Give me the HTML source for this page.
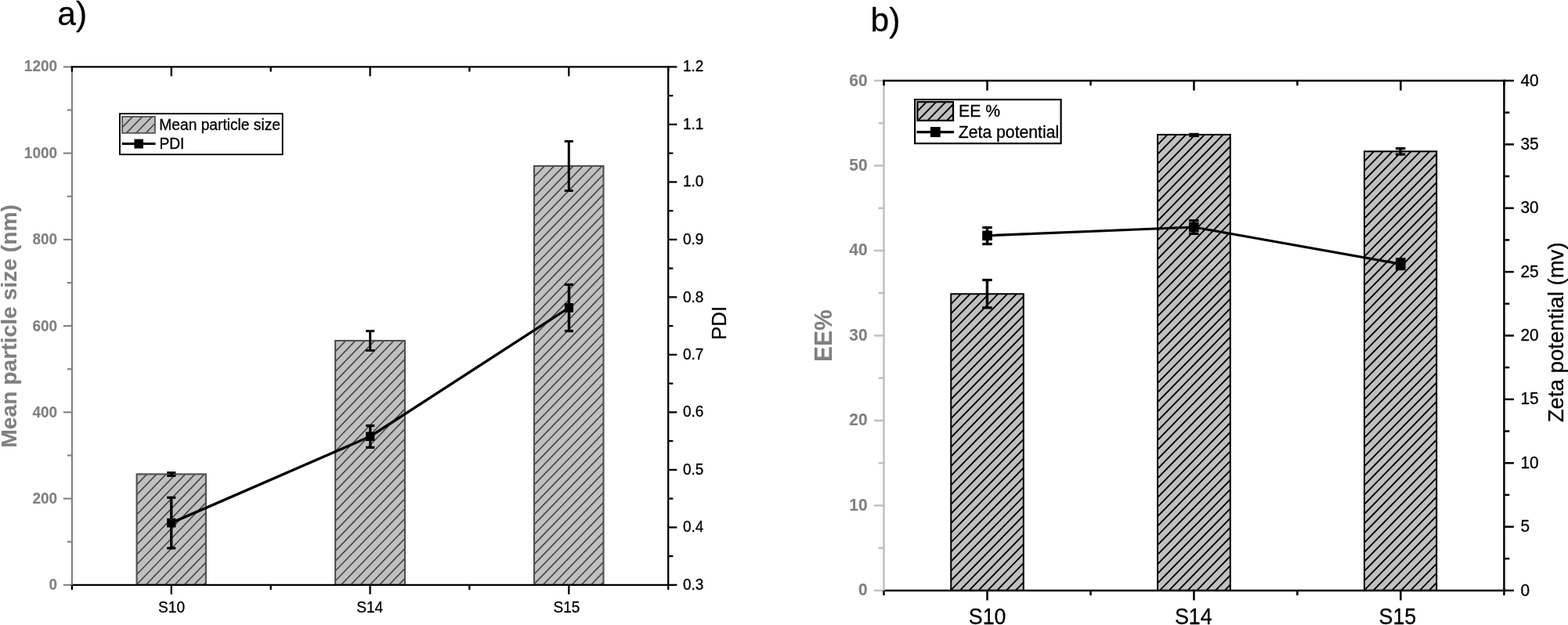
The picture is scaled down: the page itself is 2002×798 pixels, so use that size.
<!DOCTYPE html>
<html lang="en"><head><meta charset="utf-8"><title>Figure</title>
<style>html,body{margin:0;padding:0;background:#fff}body{width:2002px;height:798px;overflow:hidden}svg{display:block;font-family:'Liberation Sans', Arial, sans-serif}text{stroke:#000;stroke-width:.3px;stroke-linejoin:round}text.g{fill:#808080;stroke:#808080;stroke-width:.12px}</style>
</head><body>
<svg width="2002" height="798" viewBox="0 0 2002 798" role="img" aria-label="Bar and line charts: a) mean particle size and PDI, b) EE% and zeta potential for samples S10, S14, S15">
<rect width="2002" height="798" fill="#fff"/>
<g>
<rect x="174.6" y="605.4" width="88.3" height="141.45" fill="#c0c0c0"/>
<clipPath id="c1"><rect x="174.6" y="605.4" width="88.3" height="141.45"/></clipPath>
<path clip-path="url(#c1)" d="M36.37,749.85L178.26,602.4M48.62,749.85L190.51,602.4M60.87,749.85L202.76,602.4M73.12,749.85L215.01,602.4M85.37,749.85L227.26,602.4M97.62,749.85L239.51,602.4M109.87,749.85L251.76,602.4M122.12,749.85L264.01,602.4M134.37,749.85L276.26,602.4M146.62,749.85L288.51,602.4M158.87,749.85L300.76,602.4M171.12,749.85L313.01,602.4M183.37,749.85L325.26,602.4M195.62,749.85L337.51,602.4M207.87,749.85L349.76,602.4M220.12,749.85L362.01,602.4M232.37,749.85L374.26,602.4M244.62,749.85L386.51,602.4M256.87,749.85L398.76,602.4" stroke="#4a4a4a" stroke-width="1.7" fill="none"/>
<rect x="174.6" y="605.4" width="88.3" height="141.45" fill="none" stroke="#505050" stroke-width="2.1"/>
<rect x="428.1" y="435" width="88.9" height="311.85" fill="#c0c0c0"/>
<clipPath id="c2"><rect x="428.1" y="435" width="88.9" height="311.85"/></clipPath>
<path clip-path="url(#c2)" d="M126.32,749.85L432.18,432M138.57,749.85L444.43,432M150.82,749.85L456.68,432M163.07,749.85L468.93,432M175.32,749.85L481.18,432M187.57,749.85L493.43,432M199.82,749.85L505.68,432M212.07,749.85L517.93,432M224.32,749.85L530.18,432M236.57,749.85L542.43,432M248.82,749.85L554.68,432M261.07,749.85L566.93,432M273.32,749.85L579.18,432M285.57,749.85L591.43,432M297.82,749.85L603.68,432M310.07,749.85L615.93,432M322.32,749.85L628.18,432M334.57,749.85L640.43,432M346.82,749.85L652.68,432M359.07,749.85L664.93,432M371.32,749.85L677.18,432M383.57,749.85L689.43,432M395.82,749.85L701.68,432M408.07,749.85L713.93,432M420.32,749.85L726.18,432M432.57,749.85L738.43,432M444.82,749.85L750.68,432M457.07,749.85L762.93,432M469.32,749.85L775.18,432M481.57,749.85L787.43,432M493.82,749.85L799.68,432M506.07,749.85L811.93,432M518.32,749.85L824.18,432" stroke="#4a4a4a" stroke-width="1.7" fill="none"/>
<rect x="428.1" y="435" width="88.9" height="311.85" fill="none" stroke="#505050" stroke-width="2.1"/>
<rect x="682" y="211.9" width="88.5" height="534.95" fill="#c0c0c0"/>
<clipPath id="c3"><rect x="682" y="211.9" width="88.5" height="534.95"/></clipPath>
<path clip-path="url(#c3)" d="M163.61,749.85L685.96,208.9M175.86,749.85L698.21,208.9M188.11,749.85L710.46,208.9M200.36,749.85L722.71,208.9M212.61,749.85L734.96,208.9M224.86,749.85L747.21,208.9M237.11,749.85L759.46,208.9M249.36,749.85L771.71,208.9M261.61,749.85L783.96,208.9M273.86,749.85L796.21,208.9M286.11,749.85L808.46,208.9M298.36,749.85L820.71,208.9M310.61,749.85L832.96,208.9M322.86,749.85L845.21,208.9M335.11,749.85L857.46,208.9M347.36,749.85L869.71,208.9M359.61,749.85L881.96,208.9M371.86,749.85L894.21,208.9M384.11,749.85L906.46,208.9M396.36,749.85L918.71,208.9M408.61,749.85L930.96,208.9M420.86,749.85L943.21,208.9M433.11,749.85L955.46,208.9M445.36,749.85L967.71,208.9M457.61,749.85L979.96,208.9M469.86,749.85L992.21,208.9M482.11,749.85L1004.46,208.9M494.36,749.85L1016.71,208.9M506.61,749.85L1028.96,208.9M518.86,749.85L1041.21,208.9M531.11,749.85L1053.46,208.9M543.36,749.85L1065.71,208.9M555.61,749.85L1077.96,208.9M567.86,749.85L1090.21,208.9M580.11,749.85L1102.46,208.9M592.36,749.85L1114.71,208.9M604.61,749.85L1126.96,208.9M616.86,749.85L1139.21,208.9M629.11,749.85L1151.46,208.9M641.36,749.85L1163.71,208.9M653.61,749.85L1175.96,208.9M665.86,749.85L1188.21,208.9M678.11,749.85L1200.46,208.9M690.36,749.85L1212.71,208.9M702.61,749.85L1224.96,208.9M714.86,749.85L1237.21,208.9M727.11,749.85L1249.46,208.9M739.36,749.85L1261.71,208.9M751.61,749.85L1273.96,208.9M763.86,749.85L1286.21,208.9" stroke="#4a4a4a" stroke-width="1.7" fill="none"/>
<rect x="682" y="211.9" width="88.5" height="534.95" fill="none" stroke="#505050" stroke-width="2.1"/>
<line x1="218.8" y1="603.5" x2="218.8" y2="607.5" stroke="#000" stroke-width="3.0"/>
<line x1="213.25" y1="603.5" x2="224.35" y2="603.5" stroke="#000" stroke-width="2.9"/>
<line x1="213.25" y1="607.5" x2="224.35" y2="607.5" stroke="#000" stroke-width="2.9"/>
<line x1="472.6" y1="422.7" x2="472.6" y2="447.45" stroke="#000" stroke-width="3.0"/>
<line x1="467.05" y1="422.7" x2="478.15" y2="422.7" stroke="#000" stroke-width="2.9"/>
<line x1="467.05" y1="447.45" x2="478.15" y2="447.45" stroke="#000" stroke-width="2.9"/>
<line x1="726.3" y1="180.4" x2="726.3" y2="243.5" stroke="#000" stroke-width="3.0"/>
<line x1="720.75" y1="180.4" x2="731.85" y2="180.4" stroke="#000" stroke-width="2.9"/>
<line x1="720.75" y1="243.5" x2="731.85" y2="243.5" stroke="#000" stroke-width="2.9"/>
</g><g>
<polyline points="218.75,667.6 472.7,557.3 726.5,392.9" fill="none" stroke="#000" stroke-width="3.4"/>
<line x1="218.75" y1="635.3" x2="218.75" y2="699.9" stroke="#000" stroke-width="3.4"/>
<line x1="213.2" y1="635.3" x2="224.3" y2="635.3" stroke="#000" stroke-width="3.2"/>
<line x1="213.2" y1="699.9" x2="224.3" y2="699.9" stroke="#000" stroke-width="3.2"/>
<line x1="472.7" y1="543.5" x2="472.7" y2="571.3" stroke="#000" stroke-width="3.4"/>
<line x1="467.15" y1="543.5" x2="478.25" y2="543.5" stroke="#000" stroke-width="3.2"/>
<line x1="467.15" y1="571.3" x2="478.25" y2="571.3" stroke="#000" stroke-width="3.2"/>
<line x1="726.5" y1="363.4" x2="726.5" y2="422.7" stroke="#000" stroke-width="3.4"/>
<line x1="720.95" y1="363.4" x2="732.05" y2="363.4" stroke="#000" stroke-width="3.2"/>
<line x1="720.95" y1="422.7" x2="732.05" y2="422.7" stroke="#000" stroke-width="3.2"/>
<rect x="213.15" y="661.8" width="11.2" height="11.6" fill="#000"/>
<rect x="467.1" y="551.5" width="11.2" height="11.6" fill="#000"/>
<rect x="720.9" y="387.1" width="11.2" height="11.6" fill="#000"/>
</g><g>
<line x1="91.9" y1="84.25" x2="91.9" y2="748" stroke="#808080" stroke-width="2.1"/>
<line x1="80.85" y1="746.85" x2="91.9" y2="746.85" stroke="#808080" stroke-width="2.1"/>
<line x1="85.85" y1="691.73" x2="91.9" y2="691.73" stroke="#808080" stroke-width="2.1"/>
<line x1="80.85" y1="636.61" x2="91.9" y2="636.61" stroke="#808080" stroke-width="2.1"/>
<line x1="85.85" y1="581.49" x2="91.9" y2="581.49" stroke="#808080" stroke-width="2.1"/>
<line x1="80.85" y1="526.37" x2="91.9" y2="526.37" stroke="#808080" stroke-width="2.1"/>
<line x1="85.85" y1="471.25" x2="91.9" y2="471.25" stroke="#808080" stroke-width="2.1"/>
<line x1="80.85" y1="416.12" x2="91.9" y2="416.12" stroke="#808080" stroke-width="2.1"/>
<line x1="85.85" y1="361" x2="91.9" y2="361" stroke="#808080" stroke-width="2.1"/>
<line x1="80.85" y1="305.88" x2="91.9" y2="305.88" stroke="#808080" stroke-width="2.1"/>
<line x1="85.85" y1="250.76" x2="91.9" y2="250.76" stroke="#808080" stroke-width="2.1"/>
<line x1="80.85" y1="195.64" x2="91.9" y2="195.64" stroke="#808080" stroke-width="2.1"/>
<line x1="85.85" y1="140.52" x2="91.9" y2="140.52" stroke="#808080" stroke-width="2.1"/>
<line x1="80.85" y1="85.4" x2="91.9" y2="85.4" stroke="#808080" stroke-width="2.1"/>
<line x1="853.2" y1="84.25" x2="853.2" y2="748" stroke="#000" stroke-width="2.3"/>
<line x1="853.2" y1="746.85" x2="864.35" y2="746.85" stroke="#000" stroke-width="2.3"/>
<line x1="853.2" y1="710.1" x2="859.35" y2="710.1" stroke="#000" stroke-width="2.3"/>
<line x1="853.2" y1="673.36" x2="864.35" y2="673.36" stroke="#000" stroke-width="2.3"/>
<line x1="853.2" y1="636.61" x2="859.35" y2="636.61" stroke="#000" stroke-width="2.3"/>
<line x1="853.2" y1="599.86" x2="864.35" y2="599.86" stroke="#000" stroke-width="2.3"/>
<line x1="853.2" y1="563.11" x2="859.35" y2="563.11" stroke="#000" stroke-width="2.3"/>
<line x1="853.2" y1="526.37" x2="864.35" y2="526.37" stroke="#000" stroke-width="2.3"/>
<line x1="853.2" y1="489.62" x2="859.35" y2="489.62" stroke="#000" stroke-width="2.3"/>
<line x1="853.2" y1="452.87" x2="864.35" y2="452.87" stroke="#000" stroke-width="2.3"/>
<line x1="853.2" y1="416.12" x2="859.35" y2="416.12" stroke="#000" stroke-width="2.3"/>
<line x1="853.2" y1="379.38" x2="864.35" y2="379.38" stroke="#000" stroke-width="2.3"/>
<line x1="853.2" y1="342.63" x2="859.35" y2="342.63" stroke="#000" stroke-width="2.3"/>
<line x1="853.2" y1="305.88" x2="864.35" y2="305.88" stroke="#000" stroke-width="2.3"/>
<line x1="853.2" y1="269.14" x2="859.35" y2="269.14" stroke="#000" stroke-width="2.3"/>
<line x1="853.2" y1="232.39" x2="864.35" y2="232.39" stroke="#000" stroke-width="2.3"/>
<line x1="853.2" y1="195.64" x2="859.35" y2="195.64" stroke="#000" stroke-width="2.3"/>
<line x1="853.2" y1="158.89" x2="864.35" y2="158.89" stroke="#000" stroke-width="2.3"/>
<line x1="853.2" y1="122.15" x2="859.35" y2="122.15" stroke="#000" stroke-width="2.3"/>
<line x1="853.2" y1="85.4" x2="864.35" y2="85.4" stroke="#000" stroke-width="2.3"/>
<line x1="90.85" y1="85.4" x2="854.35" y2="85.4" stroke="#000" stroke-width="2.3"/>
<line x1="92.95" y1="746.85" x2="854.35" y2="746.85" stroke="#000" stroke-width="2.3"/>
<line x1="91.9" y1="85.4" x2="91.9" y2="91.55" stroke="#000" stroke-width="2.3"/>
<line x1="91.9" y1="746.85" x2="91.9" y2="753" stroke="#000" stroke-width="2.3"/>
<line x1="218.8" y1="85.4" x2="218.8" y2="97.35" stroke="#000" stroke-width="2.3"/>
<line x1="218.8" y1="746.85" x2="218.8" y2="758.8" stroke="#000" stroke-width="2.3"/>
<line x1="345.7" y1="85.4" x2="345.7" y2="91.55" stroke="#000" stroke-width="2.3"/>
<line x1="345.7" y1="746.85" x2="345.7" y2="753" stroke="#000" stroke-width="2.3"/>
<line x1="472.55" y1="85.4" x2="472.55" y2="97.35" stroke="#000" stroke-width="2.3"/>
<line x1="472.55" y1="746.85" x2="472.55" y2="758.8" stroke="#000" stroke-width="2.3"/>
<line x1="599.4" y1="85.4" x2="599.4" y2="91.55" stroke="#000" stroke-width="2.3"/>
<line x1="599.4" y1="746.85" x2="599.4" y2="753" stroke="#000" stroke-width="2.3"/>
<line x1="726.3" y1="85.4" x2="726.3" y2="97.35" stroke="#000" stroke-width="2.3"/>
<line x1="726.3" y1="746.85" x2="726.3" y2="758.8" stroke="#000" stroke-width="2.3"/>
<line x1="853.2" y1="85.4" x2="853.2" y2="91.55" stroke="#000" stroke-width="2.3"/>
<line x1="853.2" y1="746.85" x2="853.2" y2="753" stroke="#000" stroke-width="2.3"/>
</g><g>
<text transform="translate(73,753.45) scale(1,1.08)" font-size="18.95" class="g" text-anchor="end" font-weight="bold">0</text>
<text transform="translate(73,643.11) scale(1,1.08)" font-size="18.95" class="g" text-anchor="end" font-weight="bold">200</text>
<text transform="translate(73,532.57) scale(1,1.08)" font-size="18.95" class="g" text-anchor="end" font-weight="bold">400</text>
<text transform="translate(73,422.73) scale(1,1.08)" font-size="18.95" class="g" text-anchor="end" font-weight="bold">600</text>
<text transform="translate(73,312.48) scale(1,1.08)" font-size="18.95" class="g" text-anchor="end" font-weight="bold">800</text>
<text transform="translate(73,201.84) scale(1,1.08)" font-size="18.95" class="g" text-anchor="end" font-weight="bold">1000</text>
<text transform="translate(73,91) scale(1,1.08)" font-size="18.95" class="g" text-anchor="end" font-weight="bold">1200</text>
</g><g>
<text transform="translate(872,752.65) scale(1,1.11)" font-size="19.0">0.3</text>
<text transform="translate(872,679.16) scale(1,1.11)" font-size="19.0">0.4</text>
<text transform="translate(872,605.66) scale(1,1.11)" font-size="19.0">0.5</text>
<text transform="translate(872,531.77) scale(1,1.11)" font-size="19.0">0.6</text>
<text transform="translate(872,458.67) scale(1,1.11)" font-size="19.0">0.7</text>
<text transform="translate(872,385.58) scale(1,1.11)" font-size="19.0">0.8</text>
<text transform="translate(872,311.68) scale(1,1.11)" font-size="19.0">0.9</text>
<text transform="translate(872,238.19) scale(1,1.11)" font-size="19.0">1.0</text>
<text transform="translate(872,164.69) scale(1,1.11)" font-size="19.0">1.1</text>
<text transform="translate(872,91.2) scale(1,1.11)" font-size="19.0">1.2</text>
</g><g>
<text transform="translate(219.1,782.3) scale(1.0,1.055)" font-size="19.1" text-anchor="middle">S10</text>
<text transform="translate(472.25,782.3) scale(1.0,1.055)" font-size="19.1" text-anchor="middle">S14</text>
<text transform="translate(723.4,782.3) scale(1.0,1.055)" font-size="19.1" text-anchor="middle">S15</text>
</g><g>
<text transform="translate(20.8,416.4) rotate(-90) scale(1.035,1.0)" font-size="27.3" class="g" text-anchor="middle" font-weight="bold">Mean particle size (nm)</text>
<text transform="translate(926.5,412.4) rotate(-90)" font-size="25.9" text-anchor="middle">PDI</text>
<text transform="translate(73.3,31.7) scale(1.0,0.98)" font-size="42.5">a)</text>
</g><g>
<rect x="152.95" y="145.15" width="207.8" height="52.1" fill="#fff" stroke="#000" stroke-width="1.85"/>
<rect x="156.05" y="148.9" width="41.85" height="20.95" fill="#c0c0c0"/>
<clipPath id="c4"><rect x="156.05" y="148.9" width="41.85" height="20.95"/></clipPath>
<path clip-path="url(#c4)" d="M133.72,172.85L159.92,145.9M146.1,172.85L172.3,145.9M158.47,172.85L184.67,145.9M170.85,172.85L197.05,145.9M183.22,172.85L209.42,145.9M195.6,172.85L221.8,145.9" stroke="#4a4a4a" stroke-width="1.7" fill="none"/>
<rect x="156.05" y="148.9" width="41.85" height="20.95" fill="none" stroke="#505050" stroke-width="1.75"/>
<text transform="translate(203.3,165.9) scale(1.0,1.03)" font-size="19.2">Mean particle size</text>
<line x1="155.8" y1="183.6" x2="198.5" y2="183.6" stroke="#000" stroke-width="3"/>
<rect x="171.45" y="177.65" width="11.5" height="11.9" fill="#000"/>
<text transform="translate(203.4,189.8) scale(1.0,1.03)" font-size="19.2">PDI</text>
</g>
<g>
<rect x="1214.2" y="375.3" width="92.6" height="378.65" fill="#c0c0c0"/>
<clipPath id="c5"><rect x="1214.2" y="375.3" width="92.6" height="378.65"/></clipPath>
<path clip-path="url(#c5)" d="M843.38,756.95L1217.92,372.3M855.23,756.95L1229.77,372.3M867.08,756.95L1241.62,372.3M878.93,756.95L1253.47,372.3M890.78,756.95L1265.32,372.3M902.63,756.95L1277.17,372.3M914.48,756.95L1289.02,372.3M926.33,756.95L1300.87,372.3M938.18,756.95L1312.72,372.3M950.03,756.95L1324.57,372.3M961.88,756.95L1336.42,372.3M973.73,756.95L1348.27,372.3M985.58,756.95L1360.12,372.3M997.43,756.95L1371.97,372.3M1009.28,756.95L1383.82,372.3M1021.13,756.95L1395.67,372.3M1032.98,756.95L1407.52,372.3M1044.83,756.95L1419.37,372.3M1056.68,756.95L1431.22,372.3M1068.53,756.95L1443.07,372.3M1080.38,756.95L1454.92,372.3M1092.23,756.95L1466.77,372.3M1104.08,756.95L1478.62,372.3M1115.93,756.95L1490.47,372.3M1127.78,756.95L1502.32,372.3M1139.63,756.95L1514.17,372.3M1151.48,756.95L1526.02,372.3M1163.33,756.95L1537.87,372.3M1175.18,756.95L1549.72,372.3M1187.03,756.95L1561.57,372.3M1198.88,756.95L1573.42,372.3M1210.73,756.95L1585.27,372.3M1222.58,756.95L1597.12,372.3M1234.43,756.95L1608.97,372.3M1246.28,756.95L1620.82,372.3M1258.13,756.95L1632.67,372.3M1269.98,756.95L1644.52,372.3M1281.83,756.95L1656.37,372.3M1293.68,756.95L1668.22,372.3M1305.53,756.95L1680.07,372.3" stroke="#000" stroke-width="1.9" fill="none"/>
<rect x="1214.2" y="375.3" width="92.6" height="378.65" fill="none" stroke="#000" stroke-width="2.0"/>
<rect x="1478" y="171.9" width="92.8" height="582.05" fill="#c0c0c0"/>
<clipPath id="c6"><rect x="1478" y="171.9" width="92.8" height="582.05"/></clipPath>
<path clip-path="url(#c6)" d="M909.03,756.95L1481.62,168.9M920.88,756.95L1493.47,168.9M932.73,756.95L1505.32,168.9M944.58,756.95L1517.17,168.9M956.43,756.95L1529.02,168.9M968.28,756.95L1540.87,168.9M980.13,756.95L1552.72,168.9M991.98,756.95L1564.57,168.9M1003.83,756.95L1576.42,168.9M1015.68,756.95L1588.27,168.9M1027.53,756.95L1600.12,168.9M1039.38,756.95L1611.97,168.9M1051.23,756.95L1623.82,168.9M1063.08,756.95L1635.67,168.9M1074.93,756.95L1647.52,168.9M1086.78,756.95L1659.37,168.9M1098.63,756.95L1671.22,168.9M1110.48,756.95L1683.07,168.9M1122.33,756.95L1694.92,168.9M1134.18,756.95L1706.77,168.9M1146.03,756.95L1718.62,168.9M1157.88,756.95L1730.47,168.9M1169.73,756.95L1742.32,168.9M1181.58,756.95L1754.17,168.9M1193.43,756.95L1766.02,168.9M1205.28,756.95L1777.87,168.9M1217.13,756.95L1789.72,168.9M1228.98,756.95L1801.57,168.9M1240.83,756.95L1813.42,168.9M1252.68,756.95L1825.27,168.9M1264.53,756.95L1837.12,168.9M1276.38,756.95L1848.97,168.9M1288.23,756.95L1860.82,168.9M1300.08,756.95L1872.67,168.9M1311.93,756.95L1884.52,168.9M1323.78,756.95L1896.37,168.9M1335.63,756.95L1908.22,168.9M1347.48,756.95L1920.07,168.9M1359.33,756.95L1931.92,168.9M1371.18,756.95L1943.77,168.9M1383.03,756.95L1955.62,168.9M1394.88,756.95L1967.47,168.9M1406.73,756.95L1979.32,168.9M1418.58,756.95L1991.17,168.9M1430.43,756.95L2003.02,168.9M1442.28,756.95L2014.87,168.9M1454.13,756.95L2026.72,168.9M1465.98,756.95L2038.57,168.9M1477.83,756.95L2050.42,168.9M1489.68,756.95L2062.27,168.9M1501.53,756.95L2074.12,168.9M1513.38,756.95L2085.97,168.9M1525.23,756.95L2097.82,168.9M1537.08,756.95L2109.67,168.9M1548.93,756.95L2121.52,168.9M1560.78,756.95L2133.37,168.9M1572.63,756.95L2145.22,168.9" stroke="#000" stroke-width="1.9" fill="none"/>
<rect x="1478" y="171.9" width="92.8" height="582.05" fill="none" stroke="#000" stroke-width="2.0"/>
<rect x="1742" y="193.3" width="92.2" height="560.65" fill="#c0c0c0"/>
<clipPath id="c7"><rect x="1742" y="193.3" width="92.2" height="560.65"/></clipPath>
<path clip-path="url(#c7)" d="M1193.53,756.95L1745.28,190.3M1205.38,756.95L1757.13,190.3M1217.23,756.95L1768.98,190.3M1229.08,756.95L1780.83,190.3M1240.93,756.95L1792.68,190.3M1252.78,756.95L1804.53,190.3M1264.63,756.95L1816.38,190.3M1276.48,756.95L1828.23,190.3M1288.33,756.95L1840.08,190.3M1300.18,756.95L1851.93,190.3M1312.03,756.95L1863.78,190.3M1323.88,756.95L1875.63,190.3M1335.73,756.95L1887.48,190.3M1347.58,756.95L1899.33,190.3M1359.43,756.95L1911.18,190.3M1371.28,756.95L1923.03,190.3M1383.13,756.95L1934.88,190.3M1394.98,756.95L1946.73,190.3M1406.83,756.95L1958.58,190.3M1418.68,756.95L1970.43,190.3M1430.53,756.95L1982.28,190.3M1442.38,756.95L1994.13,190.3M1454.23,756.95L2005.98,190.3M1466.08,756.95L2017.83,190.3M1477.93,756.95L2029.68,190.3M1489.78,756.95L2041.53,190.3M1501.63,756.95L2053.38,190.3M1513.48,756.95L2065.23,190.3M1525.33,756.95L2077.08,190.3M1537.18,756.95L2088.93,190.3M1549.03,756.95L2100.78,190.3M1560.88,756.95L2112.63,190.3M1572.73,756.95L2124.48,190.3M1584.58,756.95L2136.33,190.3M1596.43,756.95L2148.18,190.3M1608.28,756.95L2160.03,190.3M1620.13,756.95L2171.88,190.3M1631.98,756.95L2183.73,190.3M1643.83,756.95L2195.58,190.3M1655.68,756.95L2207.43,190.3M1667.53,756.95L2219.28,190.3M1679.38,756.95L2231.13,190.3M1691.23,756.95L2242.98,190.3M1703.08,756.95L2254.83,190.3M1714.93,756.95L2266.68,190.3M1726.78,756.95L2278.53,190.3M1738.63,756.95L2290.38,190.3M1750.48,756.95L2302.23,190.3M1762.33,756.95L2314.08,190.3M1774.18,756.95L2325.93,190.3M1786.03,756.95L2337.78,190.3M1797.88,756.95L2349.63,190.3M1809.73,756.95L2361.48,190.3M1821.58,756.95L2373.33,190.3M1833.43,756.95L2385.18,190.3" stroke="#000" stroke-width="1.9" fill="none"/>
<rect x="1742" y="193.3" width="92.2" height="560.65" fill="none" stroke="#000" stroke-width="2.0"/>
<line x1="1260.4" y1="357.5" x2="1260.4" y2="392.9" stroke="#000" stroke-width="3.4"/>
<line x1="1254.15" y1="357.5" x2="1266.65" y2="357.5" stroke="#000" stroke-width="3.2"/>
<line x1="1254.15" y1="392.9" x2="1266.65" y2="392.9" stroke="#000" stroke-width="3.2"/>
<line x1="1524.5" y1="171.4" x2="1524.5" y2="173.5" stroke="#000" stroke-width="3.4"/>
<line x1="1518.25" y1="171.4" x2="1530.75" y2="171.4" stroke="#000" stroke-width="3.2"/>
<line x1="1518.25" y1="173.5" x2="1530.75" y2="173.5" stroke="#000" stroke-width="3.2"/>
<line x1="1788.1" y1="189.6" x2="1788.1" y2="197.1" stroke="#000" stroke-width="3.4"/>
<line x1="1781.85" y1="189.6" x2="1794.35" y2="189.6" stroke="#000" stroke-width="3.2"/>
<line x1="1781.85" y1="197.1" x2="1794.35" y2="197.1" stroke="#000" stroke-width="3.2"/>
</g><g>
<polyline points="1260.5,300.8 1524.3,290 1788.3,337.15" fill="none" stroke="#000" stroke-width="3.2"/>
<line x1="1260.5" y1="290.55" x2="1260.5" y2="311.6" stroke="#000" stroke-width="3.5"/>
<line x1="1254.25" y1="290.55" x2="1266.75" y2="290.55" stroke="#000" stroke-width="3.2"/>
<line x1="1254.25" y1="311.6" x2="1266.75" y2="311.6" stroke="#000" stroke-width="3.2"/>
<line x1="1524.3" y1="281.6" x2="1524.3" y2="298.4" stroke="#000" stroke-width="3.5"/>
<line x1="1518.05" y1="281.6" x2="1530.55" y2="281.6" stroke="#000" stroke-width="3.2"/>
<line x1="1518.05" y1="298.4" x2="1530.55" y2="298.4" stroke="#000" stroke-width="3.2"/>
<line x1="1788.3" y1="330.7" x2="1788.3" y2="343.6" stroke="#000" stroke-width="3.5"/>
<line x1="1782.05" y1="330.7" x2="1794.55" y2="330.7" stroke="#000" stroke-width="3.2"/>
<line x1="1782.05" y1="343.6" x2="1794.55" y2="343.6" stroke="#000" stroke-width="3.2"/>
<rect x="1254.15" y="294.55" width="12.7" height="12.5" fill="#000"/>
<rect x="1517.95" y="283.75" width="12.7" height="12.5" fill="#000"/>
<rect x="1781.95" y="330.9" width="12.7" height="12.5" fill="#000"/>
</g><g>
<line x1="1128.5" y1="101.75" x2="1128.5" y2="755.2" stroke="#c0c0c0" stroke-width="2.5"/>
<line x1="1116.05" y1="753.95" x2="1128.5" y2="753.95" stroke="#c0c0c0" stroke-width="2.5"/>
<line x1="1121.65" y1="699.7" x2="1128.5" y2="699.7" stroke="#c0c0c0" stroke-width="2.5"/>
<line x1="1116.05" y1="645.46" x2="1128.5" y2="645.46" stroke="#c0c0c0" stroke-width="2.5"/>
<line x1="1121.65" y1="591.21" x2="1128.5" y2="591.21" stroke="#c0c0c0" stroke-width="2.5"/>
<line x1="1116.05" y1="536.97" x2="1128.5" y2="536.97" stroke="#c0c0c0" stroke-width="2.5"/>
<line x1="1121.65" y1="482.72" x2="1128.5" y2="482.72" stroke="#c0c0c0" stroke-width="2.5"/>
<line x1="1116.05" y1="428.48" x2="1128.5" y2="428.48" stroke="#c0c0c0" stroke-width="2.5"/>
<line x1="1121.65" y1="374.23" x2="1128.5" y2="374.23" stroke="#c0c0c0" stroke-width="2.5"/>
<line x1="1116.05" y1="319.98" x2="1128.5" y2="319.98" stroke="#c0c0c0" stroke-width="2.5"/>
<line x1="1121.65" y1="265.74" x2="1128.5" y2="265.74" stroke="#c0c0c0" stroke-width="2.5"/>
<line x1="1116.05" y1="211.49" x2="1128.5" y2="211.49" stroke="#c0c0c0" stroke-width="2.5"/>
<line x1="1121.65" y1="157.25" x2="1128.5" y2="157.25" stroke="#c0c0c0" stroke-width="2.5"/>
<line x1="1116.05" y1="103" x2="1128.5" y2="103" stroke="#c0c0c0" stroke-width="2.5"/>
<line x1="1920.4" y1="101.75" x2="1920.4" y2="755.2" stroke="#000" stroke-width="2.5"/>
<line x1="1920.4" y1="753.95" x2="1932.85" y2="753.95" stroke="#000" stroke-width="2.5"/>
<line x1="1920.4" y1="713.27" x2="1927.25" y2="713.27" stroke="#000" stroke-width="2.5"/>
<line x1="1920.4" y1="672.58" x2="1932.85" y2="672.58" stroke="#000" stroke-width="2.5"/>
<line x1="1920.4" y1="631.9" x2="1927.25" y2="631.9" stroke="#000" stroke-width="2.5"/>
<line x1="1920.4" y1="591.21" x2="1932.85" y2="591.21" stroke="#000" stroke-width="2.5"/>
<line x1="1920.4" y1="550.53" x2="1927.25" y2="550.53" stroke="#000" stroke-width="2.5"/>
<line x1="1920.4" y1="509.84" x2="1932.85" y2="509.84" stroke="#000" stroke-width="2.5"/>
<line x1="1920.4" y1="469.16" x2="1927.25" y2="469.16" stroke="#000" stroke-width="2.5"/>
<line x1="1920.4" y1="428.48" x2="1932.85" y2="428.48" stroke="#000" stroke-width="2.5"/>
<line x1="1920.4" y1="387.79" x2="1927.25" y2="387.79" stroke="#000" stroke-width="2.5"/>
<line x1="1920.4" y1="347.11" x2="1932.85" y2="347.11" stroke="#000" stroke-width="2.5"/>
<line x1="1920.4" y1="306.42" x2="1927.25" y2="306.42" stroke="#000" stroke-width="2.5"/>
<line x1="1920.4" y1="265.74" x2="1932.85" y2="265.74" stroke="#000" stroke-width="2.5"/>
<line x1="1920.4" y1="225.05" x2="1927.25" y2="225.05" stroke="#000" stroke-width="2.5"/>
<line x1="1920.4" y1="184.37" x2="1932.85" y2="184.37" stroke="#000" stroke-width="2.5"/>
<line x1="1920.4" y1="143.68" x2="1927.25" y2="143.68" stroke="#000" stroke-width="2.5"/>
<line x1="1920.4" y1="103" x2="1932.85" y2="103" stroke="#000" stroke-width="2.5"/>
<line x1="1127.25" y1="103" x2="1921.65" y2="103" stroke="#000" stroke-width="2.5"/>
<line x1="1129.75" y1="753.95" x2="1921.65" y2="753.95" stroke="#000" stroke-width="2.5"/>
<line x1="1128.5" y1="103" x2="1128.5" y2="109.25" stroke="#000" stroke-width="2.5"/>
<line x1="1128.5" y1="753.95" x2="1128.5" y2="760.2" stroke="#000" stroke-width="2.5"/>
<line x1="1260.5" y1="103" x2="1260.5" y2="115.55" stroke="#000" stroke-width="2.5"/>
<line x1="1260.5" y1="753.95" x2="1260.5" y2="766.5" stroke="#000" stroke-width="2.5"/>
<line x1="1392.5" y1="103" x2="1392.5" y2="109.25" stroke="#000" stroke-width="2.5"/>
<line x1="1392.5" y1="753.95" x2="1392.5" y2="760.2" stroke="#000" stroke-width="2.5"/>
<line x1="1524.4" y1="103" x2="1524.4" y2="115.55" stroke="#000" stroke-width="2.5"/>
<line x1="1524.4" y1="753.95" x2="1524.4" y2="766.5" stroke="#000" stroke-width="2.5"/>
<line x1="1656.4" y1="103" x2="1656.4" y2="109.25" stroke="#000" stroke-width="2.5"/>
<line x1="1656.4" y1="753.95" x2="1656.4" y2="760.2" stroke="#000" stroke-width="2.5"/>
<line x1="1788.4" y1="103" x2="1788.4" y2="115.55" stroke="#000" stroke-width="2.5"/>
<line x1="1788.4" y1="753.95" x2="1788.4" y2="766.5" stroke="#000" stroke-width="2.5"/>
<line x1="1920.4" y1="103" x2="1920.4" y2="109.25" stroke="#000" stroke-width="2.5"/>
<line x1="1920.4" y1="753.95" x2="1920.4" y2="760.2" stroke="#000" stroke-width="2.5"/>
</g><g>
<text transform="translate(1107.5,760.45) scale(1,1.07)" font-size="20.9" class="g" text-anchor="end" font-weight="bold">0</text>
<text transform="translate(1107.5,651.96) scale(1,1.07)" font-size="20.9" class="g" text-anchor="end" font-weight="bold">10</text>
<text transform="translate(1107.5,543.47) scale(1,1.07)" font-size="20.9" class="g" text-anchor="end" font-weight="bold">20</text>
<text transform="translate(1107.5,434.98) scale(1,1.07)" font-size="20.9" class="g" text-anchor="end" font-weight="bold">30</text>
<text transform="translate(1107.5,326.48) scale(1,1.07)" font-size="20.9" class="g" text-anchor="end" font-weight="bold">40</text>
<text transform="translate(1107.5,217.99) scale(1,1.07)" font-size="20.9" class="g" text-anchor="end" font-weight="bold">50</text>
<text transform="translate(1107.5,109.5) scale(1,1.07)" font-size="20.9" class="g" text-anchor="end" font-weight="bold">60</text>
</g><g>
<text transform="translate(1941.4,760.55) scale(1,1.06)" font-size="20.8">0</text>
<text transform="translate(1941.4,679.18) scale(1,1.06)" font-size="20.8">5</text>
<text transform="translate(1941.4,597.81) scale(1,1.06)" font-size="20.8">10</text>
<text transform="translate(1941.4,516.44) scale(1,1.06)" font-size="20.8">15</text>
<text transform="translate(1941.4,435.08) scale(1,1.06)" font-size="20.8">20</text>
<text transform="translate(1941.4,353.71) scale(1,1.06)" font-size="20.8">25</text>
<text transform="translate(1941.4,272.34) scale(1,1.06)" font-size="20.8">30</text>
<text transform="translate(1941.4,191.17) scale(1,1.06)" font-size="20.8">35</text>
<text transform="translate(1941.4,109.6) scale(1,1.06)" font-size="20.8">40</text>
</g><g>
<text transform="translate(1260.6,796.95) scale(1.0,1.09)" font-size="26.8" text-anchor="middle">S10</text>
<text transform="translate(1523.8,796.95) scale(1.0,1.09)" font-size="26.8" text-anchor="middle">S14</text>
<text transform="translate(1784.4,796.95) scale(1.0,1.09)" font-size="26.8" text-anchor="middle">S15</text>
</g><g>
<text transform="translate(1061.7,428.75) rotate(-90) scale(0.937,1.0)" font-size="32" class="g" text-anchor="middle" font-weight="bold">EE%</text>
<text transform="translate(1995.8,424.35) rotate(-90) scale(0.985,1.0)" font-size="28.0" text-anchor="middle">Zeta potential (mv)</text>
<text transform="translate(1111.5,40.1)" font-size="42.5">b)</text>
</g><g>
<rect x="1168.1" y="127.15" width="186.5" height="56" fill="#fff" stroke="#000" stroke-width="2.2"/>
<rect x="1171.4" y="130.2" width="45.6" height="23.7" fill="#c0c0c0"/>
<clipPath id="c8"><rect x="1171.4" y="130.2" width="45.6" height="23.7"/></clipPath>
<path clip-path="url(#c8)" d="M1144.45,156.9L1173.56,127.2M1156.75,156.9L1185.86,127.2M1169.05,156.9L1198.16,127.2M1181.35,156.9L1210.46,127.2M1193.65,156.9L1222.76,127.2M1205.95,156.9L1235.06,127.2M1218.25,156.9L1247.36,127.2" stroke="#000" stroke-width="1.9" fill="none"/>
<rect x="1171.4" y="130.2" width="45.6" height="23.7" fill="none" stroke="#000" stroke-width="2.2"/>
<text transform="translate(1224,148.6) scale(1.0,1.04)" font-size="21.2">EE %</text>
<line x1="1170.5" y1="168.6" x2="1218" y2="168.6" stroke="#000" stroke-width="3.4"/>
<rect x="1187.9" y="162.1" width="12.8" height="13" fill="#000"/>
<text transform="translate(1223.8,175.5) scale(1.0,1.04)" font-size="21.2">Zeta potential</text>
</g>
</svg></body></html>
